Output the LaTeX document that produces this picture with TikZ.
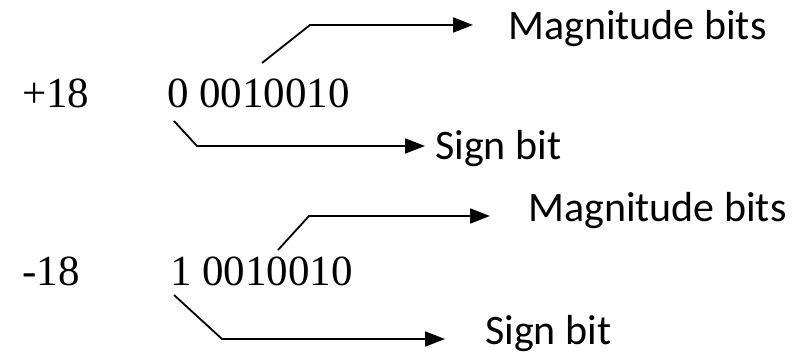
\documentclass[tikz,border=0pt]{standalone}
\usepackage{fontspec}
\setmainfont{Liberation Serif}
\newfontfamily\labelfont{Carlito}
\usetikzlibrary{arrows.meta}
\tikzset{
  num/.style={anchor=base west, inner sep=0pt, font=\fontsize{43}{50}\selectfont},
  lbl/.style={anchor=base west, inner sep=0pt, font=\labelfont\fontsize{42}{50}\selectfont},
  conn/.style={line width=1.8pt, -{Triangle[length=20pt,width=15pt]}},
}
\begin{document}
\begin{tikzpicture}[x=1pt,y=-1pt]
  \useasboundingbox (0,0) rectangle (797,355);

  % positive value
  \node[num] (p)  at (22,108)  {+18};
  \node[num] (pb) at (167,108) {0 0010010};
  \node[lbl] (pm) at (508,40)  {Magnitude bits};
  \node[lbl] (ps) at (435,160) {Sign bit};
  \coordinate (pmfrom) at (262,63);
  \coordinate (pmbend) at (310,25);
  \coordinate (pmtip)  at (473,25);
  \coordinate (psfrom) at (174,121);
  \coordinate (psbend) at (197,146);
  \coordinate (pstip)  at (425,146);
  \draw[conn] (pmfrom) -- (pmbend) -- (pmtip);
  \draw[conn] (psfrom) -- (psbend) -- (pstip);

  % negative value
  \node[num] (n)  at (22,285)  {-18};
  \node[num] (nb) at (170,285) {1 0010010};
  \node[lbl] (nm) at (528,222) {Magnitude bits};
  \node[lbl] (ns) at (485,344) {Sign bit};
  \coordinate (nmfrom) at (278,250);
  \coordinate (nmbend) at (309,216);
  \coordinate (nmtip)  at (490,216);
  \coordinate (nsfrom) at (174,295);
  \coordinate (nsbend) at (222,339);
  \coordinate (nstip)  at (445,339);
  \draw[conn] (nmfrom) -- (nmbend) -- (nmtip);
  \draw[conn] (nsfrom) -- (nsbend) -- (nstip);
\end{tikzpicture}
\end{document}
